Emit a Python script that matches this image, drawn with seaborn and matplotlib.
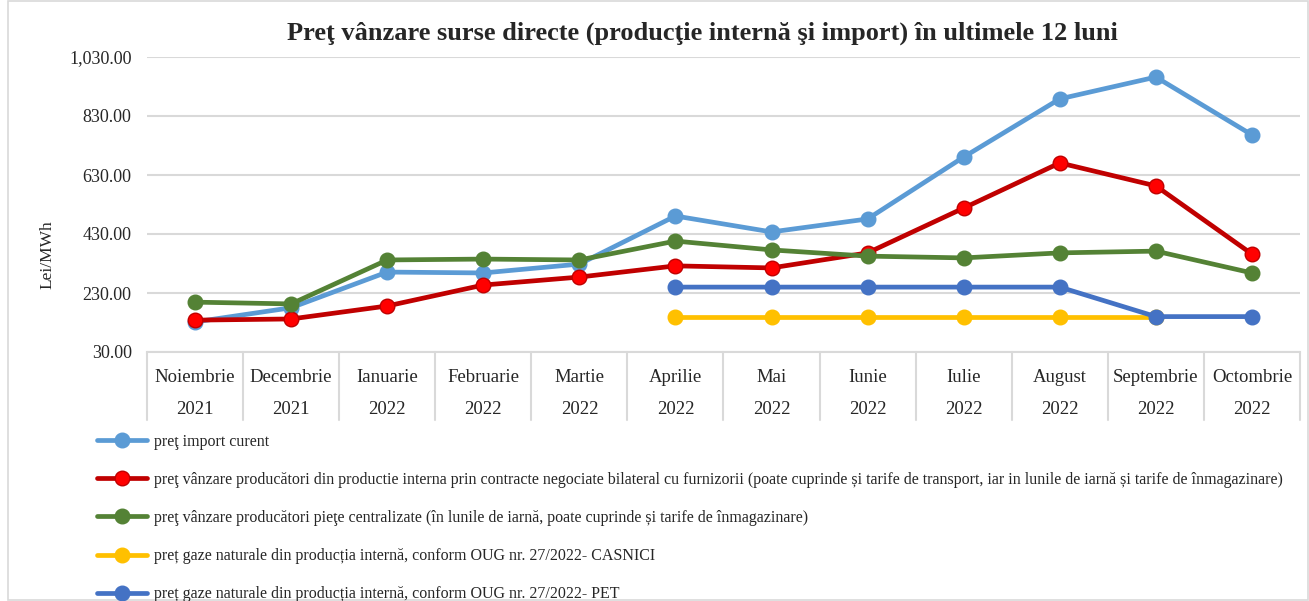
import numpy as np
import pandas as pd
import matplotlib
matplotlib.use("Agg")
import matplotlib.pyplot as plt
import matplotlib.transforms as mtransforms
from matplotlib.patches import Rectangle
from matplotlib.ticker import FuncFormatter
import seaborn as sns

# date (Lei/MWh)
months = ["Noiembrie", "Decembrie", "Ianuarie", "Februarie", "Martie", "Aprilie",
          "Mai", "Iunie", "Iulie", "August", "Septembrie", "Octombrie"]
years = ["2021", "2021", "2022", "2022", "2022", "2022",
         "2022", "2022", "2022", "2022", "2022", "2022"]

import_curent = [132, 180, 301, 298, 328, 491, 437, 481, 691, 888, 962, 766]
bilateral = [138, 142, 186, 257, 284, 322, 315, 366, 518, 671, 593, 362]
piete_centralizate = [199, 193, 342, 345, 342, 406, 376, 355, 349, 366, 372, 298]
casnici = [None, None, None, None, None, 150, 150, 150, 150, 150, 150, None]
pet = [None, None, None, None, None, 250, 250, 250, 250, 250, 150, 150]

labels = [
    "preţ import curent",
    "preţ vânzare producători din productie interna prin contracte negociate bilateral cu furnizorii "
    "(poate cuprinde și tarife de transport, iar in lunile de iarnă și tarife de înmagazinare)",
    "preţ vânzare producători pieţe centralizate (în lunile de iarnă, poate cuprinde și tarife de înmagazinare)",
    "preț gaze naturale din producția internă, conform OUG nr. 27/2022- CASNICI",
    "preț gaze naturale din producția internă, conform OUG nr. 27/2022- PET",
]
series = [import_curent, bilateral, piete_centralizate, casnici, pet]
colors = ["#5B9BD5", "#C00000", "#548235", "#FFC000", "#4472C4"]
face_colors = ["#5B9BD5", "#FF0000", "#548235", "#FFC000", "#4472C4"]

sns.set_style("white")
plt.rcParams['font.family'] = ['Liberation Serif', 'DejaVu Serif']

fig = plt.figure(figsize=(13.09, 6.01), dpi=100)
ax = fig.add_axes([147 / 1309, 1 - 352 / 601, 1153 / 1309, 295 / 601])

x = np.arange(len(months))
handles = []
for vals, lab, col, fc in zip(series, labels, colors, face_colors):
    df = pd.DataFrame({"x": x, "y": pd.array(vals, dtype="Float64")}).dropna()
    df["y"] = df["y"].astype(float)
    sns.lineplot(data=df, x="x", y="y", ax=ax, color=col, lw=3.4, marker="o",
                 markersize=10.5, markerfacecolor=fc, markeredgecolor=col,
                 markeredgewidth=1, label=lab, legend=False)
    handles.append(ax.lines[-1])

ax.set_xlim(-0.5, len(months) - 0.5)
ax.set_ylim(30, 1030)
ax.set_yticks(np.arange(30, 1031, 200))
ax.yaxis.set_major_formatter(FuncFormatter(lambda v, p: f"{v:,.2f}"))
ax.tick_params(axis="y", length=0, pad=11, labelsize=13)
ax.set_xticks([])
ax.set_xlabel("")
ax.set_ylabel("Lei/MWh", fontsize=12.5)
ax.yaxis.set_label_coords(-0.079, 0.33)
ax.grid(axis="y", color="#D9D9D9", lw=1.5)
ax.set_axisbelow(True)
for s in ["top", "right", "left"]:
    ax.spines[s].set_visible(False)
ax.spines["bottom"].set_color("#D9D9D9")
ax.spines["bottom"].set_linewidth(1.5)

# tabel pe axa x (luna / an)
trans = mtransforms.blended_transform_factory(ax.transData, ax.transAxes)
for k in range(len(months) + 1):
    ax.plot([k - 0.5, k - 0.5], [0, -0.23], transform=trans, color="#D9D9D9",
            lw=1.5, clip_on=False)
for k, (m, yr) in enumerate(zip(months, years)):
    ax.text(k, -0.085, m, transform=trans, ha="center", va="center", fontsize=13.5)
    ax.text(k, -0.195, yr, transform=trans, ha="center", va="center", fontsize=13.5)

fig.suptitle("Preţ vânzare surse directe (producţie internă şi import) în ultimele 12 luni",
             x=0.537, y=0.945, va="center", fontsize=19, fontweight="bold")

fig.legend(handles=handles, labels=labels, loc="upper left",
           bbox_to_anchor=(97 / 1309, 1 - 434 / 601), frameon=False,
           fontsize=11.5, handlelength=3.1, handletextpad=0.5, labelspacing=1.38,
           borderpad=0, borderaxespad=0)

fig.patches.append(Rectangle((8 / 1309, 0.002), 1 - 9 / 1309, 0.996,
                             transform=fig.transFigure, fill=False,
                             edgecolor="#D9D9D9", lw=1.2))

fig.savefig("out.png", dpi=100)
